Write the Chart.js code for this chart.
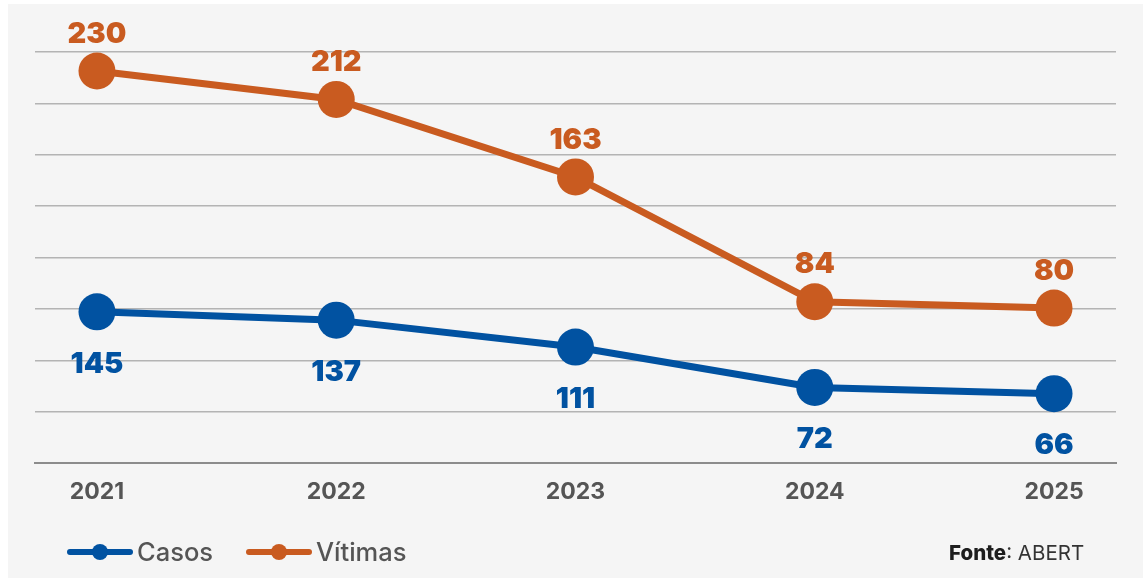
<!DOCTYPE html>
<html>
<head>
<meta charset="utf-8">
<script src="https://cdn.jsdelivr.net/npm/chart.js@4.4.1/dist/chart.umd.min.js"></script>
<style>
  html, body { margin: 0; padding: 0; background: #fff; }
  #wrap { position: relative; width: 1144px; height: 578px; overflow: hidden; font-family: Inter, "Noto Sans", sans-serif; }
  #panel { position: absolute; left: 8px; top: 4px; width: 1135px; height: 574px; background: #f5f5f5; }
  #chart { position: absolute; left: 0; top: 0; }
  .legend { position: absolute; top: 536px; display: flex; align-items: center; font-size: 25.5px; font-weight: 500; color: #555; }
  .mark { position: relative; width: 66px; height: 30px; margin-right: 4px; }
  .mark .ln { position: absolute; left: 0; right: 0; top: 12px; height: 6px; border-radius: 3px; }
  .mark .dt { position: absolute; left: 25px; top: 7px; width: 16px; height: 16px; border-radius: 50%; }
  #source { position: absolute; left: 949px; top: 540px; font-size: 20.5px; color: #333; }
  #source b { color: #1e1e1e; font-weight: 800; }
</style>
</head>
<body>
<div id="wrap">
  <div id="panel"></div>
  <canvas id="chart" width="1144" height="578"></canvas>
  <div class="legend" style="left:67px">
    <div class="mark"><div class="ln" style="background:#0152a1"></div><div class="dt" style="background:#0152a1"></div></div>
    <span>Casos</span>
  </div>
  <div class="legend" style="left:246px">
    <div class="mark"><div class="ln" style="background:#c95b20"></div><div class="dt" style="background:#c95b20"></div></div>
    <span>Vítimas</span>
  </div>
  <div id="source"><b>Fonte</b>: ABERT</div>
</div>
<script>
const years = [2021, 2022, 2023, 2024, 2025];
const casos = [145, 137, 111, 72, 66];
const vitimas = [230, 212, 163, 84, 80];

const BLUE = '#0152a1';
const ORANGE = '#c95b20';

// value labels above (vítimas) / below (casos) each point
const valueLabels = {
  id: 'valueLabels',
  afterDatasetsDraw(chart) {
    const ctx = chart.ctx;
    ctx.save();
    ctx.font = '900 29px Inter, "Noto Sans", sans-serif';
    ctx.textAlign = 'center';
    ctx.textBaseline = 'middle';
    chart.data.datasets.forEach((ds, i) => {
      const meta = chart.getDatasetMeta(i);
      ctx.fillStyle = ds.borderColor;
      meta.data.forEach((pt, j) => {
        ctx.fillText(String(ds.values[j]), pt.x, pt.y + ds.labelOffset);
      });
    });
    ctx.restore();
  }
};

new Chart(document.getElementById('chart'), {
  type: 'line',
  data: {
    datasets: [
      {
        label: 'Casos',
        values: casos,
        labelOffset: 52,
        data: years.map((y, i) => ({ x: y, y: casos[i] })),
        yAxisID: 'yCasos',
        borderColor: BLUE,
        backgroundColor: BLUE,
        borderWidth: 7,
        pointRadius: 18.5,
        pointBorderWidth: 0,
        pointBackgroundColor: BLUE,
        tension: 0,
        clip: false,
      },
      {
        label: 'Vítimas',
        values: vitimas,
        labelOffset: -37,
        data: years.map((y, i) => ({ x: y, y: vitimas[i] })),
        yAxisID: 'yVitimas',
        borderColor: ORANGE,
        backgroundColor: ORANGE,
        borderWidth: 7,
        pointRadius: 18.5,
        pointBorderWidth: 0,
        pointBackgroundColor: ORANGE,
        tension: 0,
        clip: false,
      },
    ],
  },
  options: {
    responsive: false,
    animation: false,
    layout: { padding: { left: 35, right: 28, top: 52, bottom: 0 } },
    plugins: { legend: { display: false }, tooltip: { enabled: false } },
    scales: {
      x: {
        type: 'linear',
        min: 2020.741,
        max: 2025.259,
        afterBuildTicks: s => { s.ticks = years.map(v => ({ value: v })); },
        afterFit: s => { s.height = 115; },
        grid: { display: false, drawTicks: false },
        border: { display: true, color: '#8c8c8c', width: 2 },
        ticks: {
          padding: 15,
          color: '#555',
          font: { family: 'Inter, "Noto Sans", sans-serif', size: 23, weight: 'bold' },
          callback: v => String(v),
        },
      },
      grid8: {
        position: 'left',
        min: 0,
        max: 8,
        afterFit: s => { s.width = 0; },
        ticks: { display: false, stepSize: 1 },
        grid: { color: '#b4b4b4', lineWidth: 1.5, drawTicks: false },
        border: { display: false },
      },
      yCasos: { display: false, min: -1, max: 396 },
      yVitimas: { display: false, min: -18, max: 242 },
    },
  },
  plugins: [valueLabels],
});
</script>
</body>
</html>
